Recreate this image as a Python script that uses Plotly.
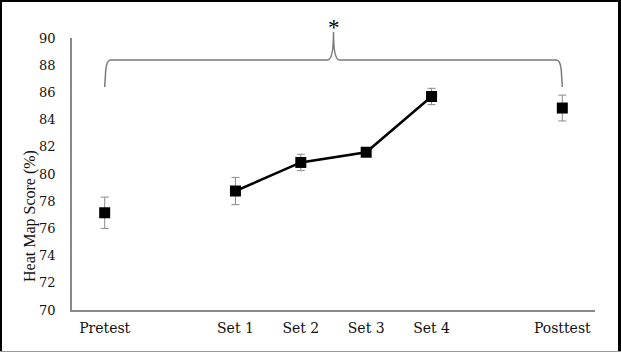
import plotly.graph_objects as go

# ---- data ----
categories = ["Pretest", "Set 1", "Set 2", "Set 3", "Set 4", "Posttest"]
scores = [77.15, 78.75, 80.85, 81.6, 85.7, 84.85]
errors = [1.15, 1.0, 0.6, 0.3, 0.6, 0.95]
line_cats = ["Set 1", "Set 2", "Set 3", "Set 4"]
axis_order = ["Pretest", " ", "Set 1", "Set 2", "Set 3", "Set 4", "  ", "Posttest"]
y_ticks = list(range(70, 91, 2))
y_title = "Heat Map Score (%)"

W, H = 621, 352
ML, MR, MT, MB = 72, 26, 38, 42
PW, PH = W - ML - MR, H - MT - MB

line_y = [scores[categories.index(c)] for c in line_cats]

fig = go.Figure()
fig.add_trace(go.Scatter(x=line_cats, y=line_y, mode="lines",
                         line=dict(color="black", width=2.5),
                         showlegend=False, hoverinfo="skip"))
fig.add_trace(go.Scatter(x=categories, y=scores, mode="markers",
                         marker=dict(symbol="square", size=11, color="black"),
                         error_y=dict(type="data", array=errors, color="#8a8a8a",
                                      thickness=1, width=4),
                         showlegend=False))

def px_x(px):
    return (px - ML) / PW

def px_y(py):
    return (MT + PH - py) / PH

def cat_x(name):
    i = axis_order.index(name)
    return (i + 0.5) / len(axis_order)

# bracket (paper coordinates)
xl = cat_x("Pretest")
xr = cat_x("Posttest")
xc = (xl + xr) / 2
yb = px_y(87)
ym = px_y(70)
yh = px_y(60)
yt = px_y(32)
dx = 6 / PW
dc = 6 / PW
path = (f"M {xl},{yb} L {xl + 0.002},{ym} Q {xl + 0.004},{yh} {xl + dx},{yh} "
        f"L {xc - dc},{yh} Q {xc},{yh} {xc},{yt} Q {xc},{yh} {xc + dc},{yh} "
        f"L {xr - dx},{yh} Q {xr - 0.004},{yh} {xr - 0.002},{ym} L {xr},{yb}")
shapes = [dict(type="path", xref="paper", yref="paper", path=path,
               line=dict(color="#7a7a7a", width=1.5))]

# black frame around image
def rect(x0, y0, x1, y1, color="black"):
    return dict(type="rect", xref="paper", yref="paper",
                x0=px_x(x0), x1=px_x(x1), y0=px_y(y1), y1=px_y(y0),
                fillcolor=color, line=dict(width=0), layer="above")

shapes += [rect(0, 0, 2, H), rect(0, 0, W, 2), rect(W - 3, 0, W, H),
           rect(0, H - 1, W, H, "#999999")]

fig.update_layout(
    width=W, height=H,
    margin=dict(l=ML, r=MR, t=MT, b=MB),
    paper_bgcolor="white", plot_bgcolor="white",
    shapes=shapes,
    annotations=[
        dict(text="*", xref="paper", yref="paper", x=xc, y=px_y(13),
             showarrow=False, xanchor="center", yanchor="top",
             font=dict(family="Liberation Serif", size=23, color="black")),
        dict(text=y_title, xref="paper", yref="paper", x=px_x(30), y=px_y(216),
             showarrow=False, xanchor="center", yanchor="middle", textangle=-90,
             font=dict(family="Liberation Serif", size=16, color="#111111")),
    ],
    xaxis=dict(type="category", categoryorder="array", categoryarray=axis_order,
               range=[-0.5, len(axis_order) - 0.5], showgrid=False, zeroline=False,
               showline=True, linecolor="#888888", linewidth=1.5, ticks="",
               ticklabelstandoff=4,
               tickfont=dict(family="DejaVu Serif", size=14, color="#111111")),
    yaxis=dict(range=[70, 90], tickvals=y_ticks, showgrid=False, zeroline=False,
               showline=True, linecolor="#888888", linewidth=1.5, ticks="",
               ticklabelstandoff=12,
               tickfont=dict(family="DejaVu Serif", size=13, color="#111111")),
)

fig.write_html("out.html")
